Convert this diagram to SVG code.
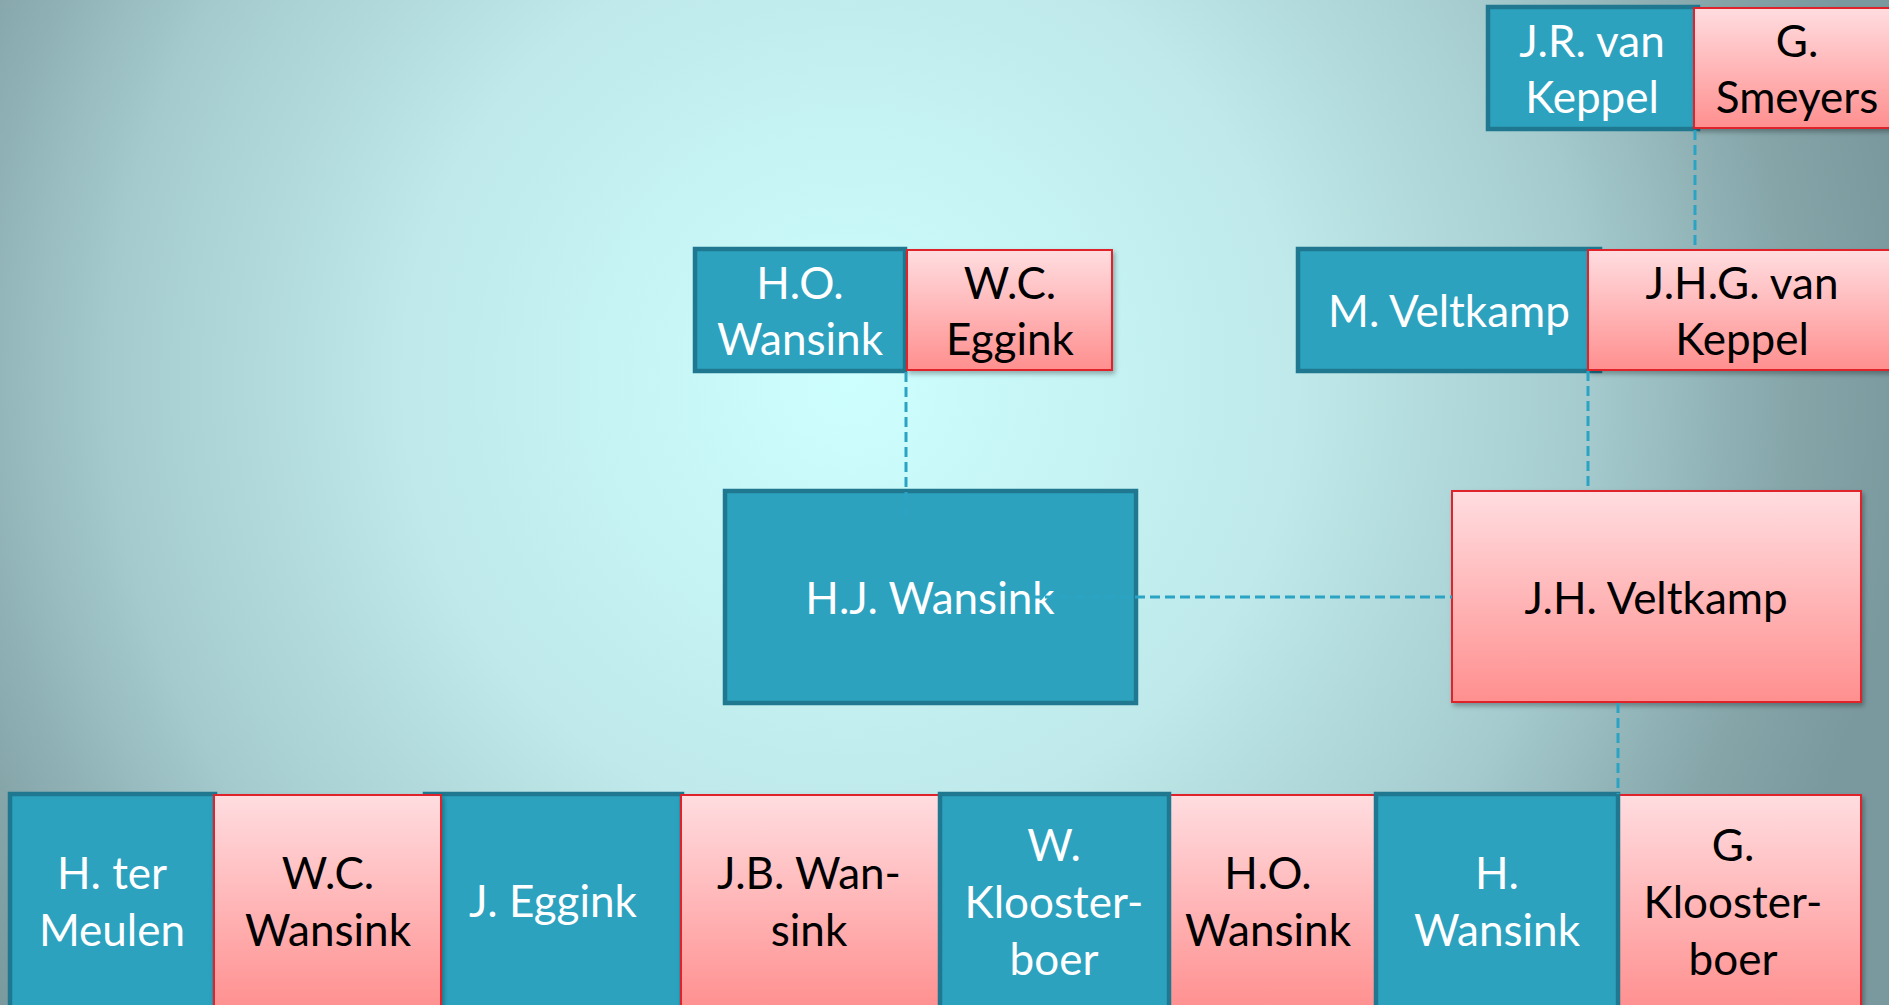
<svg xmlns="http://www.w3.org/2000/svg" width="1889" height="1005" viewBox="0 0 1889 1005">
<defs>
<radialGradient id="bg" gradientUnits="userSpaceOnUse" cx="850" cy="380" r="1060">
<stop offset="0" stop-color="#CEFFFF"/>
<stop offset="0.42" stop-color="#BFE9EA"/>
<stop offset="0.7" stop-color="#A4CACD"/>
<stop offset="0.89" stop-color="#85A5A9"/>
<stop offset="1" stop-color="#7A999E"/>
</radialGradient>
<linearGradient id="pinkg" x1="0" y1="0" x2="0" y2="1">
<stop offset="0" stop-color="#FFDDE0"/>
<stop offset="1" stop-color="#FF8F8F"/>
</linearGradient>
<filter id="sh" x="-10%" y="-10%" width="130%" height="130%">
<feDropShadow dx="2" dy="3" stdDeviation="2.5" flood-color="#000" flood-opacity="0.3"/>
</filter>
<style>
.blue{fill:#2CA2BF;stroke:#1F7890;stroke-width:4.5}
.pink{fill:url(#pinkg);stroke:#E0202A;stroke-width:2;filter:url(#sh)}
.tw{font-family:Lato,"Open Sans",sans-serif;font-size:44px;fill:#FFFFFF;text-anchor:middle}
.tb{font-family:Lato,"Open Sans",sans-serif;font-size:44px;fill:#000000;text-anchor:middle}
.con{fill:none;stroke:#2AA3C4;stroke-width:3;stroke-dasharray:10 5}
</style>
</defs>
<rect x="0" y="0" width="1889" height="1005" fill="url(#bg)"/>

<g id="n-jr-van-keppel"><rect class="blue" x="1488" y="7" width="210" height="122"/><text class="tw" x="1592" y="57">J.R. van</text><text class="tw" x="1592" y="113">Keppel</text></g>
<g id="n-g-smeyers"><rect class="pink" x="1694" y="8" width="210" height="120"/><text class="tb" x="1797" y="57">G.</text><text class="tb" x="1797" y="113">Smeyers</text></g>

<g id="n-ho-wansink-top"><rect class="blue" x="695" y="249" width="210" height="122"/><text class="tw" x="800" y="299">H.O.</text><text class="tw" x="800" y="355">Wansink</text></g>
<g id="n-wc-eggink"><rect class="pink" x="907" y="250" width="205" height="120"/><text class="tb" x="1010" y="299">W.C.</text><text class="tb" x="1010" y="355">Eggink</text></g>

<g id="n-m-veltkamp"><rect class="blue" x="1298" y="249" width="302" height="122"/><text class="tw" x="1449" y="327">M. Veltkamp</text></g>
<g id="n-jhg-van-keppel"><rect class="pink" x="1588" y="250" width="310" height="120"/><text class="tb" x="1742" y="299">J.H.G. van</text><text class="tb" x="1742" y="355">Keppel</text></g>

<g id="n-hj-wansink"><rect class="blue" x="725" y="491" width="411" height="212"/><text class="tw" x="930" y="614">H.J. Wansink</text></g>
<g id="n-jh-veltkamp"><rect class="pink" x="1452" y="491" width="409" height="211"/><text class="tb" x="1656" y="614">J.H. Veltkamp</text></g>

<g id="n-h-ter-meulen"><rect class="blue" x="10" y="794" width="205" height="216"/><text class="tw" x="112" y="889">H. ter</text><text class="tw" x="112" y="946">Meulen</text></g>
<g id="n-j-eggink"><rect class="blue" x="425" y="794" width="257" height="216"/><text class="tw" x="553" y="917">J. Eggink</text></g>
<g id="n-wc-wansink"><rect class="pink" x="214" y="795" width="227" height="216"/><text class="tb" x="328" y="889">W.C.</text><text class="tb" x="328" y="946">Wansink</text></g>
<g id="n-jb-wansink"><rect class="pink" x="681" y="795" width="258" height="216"/><text class="tb" x="809" y="889">J.B. Wan-</text><text class="tb" x="809" y="946">sink</text></g>
<g id="n-ho-wansink-bottom"><rect class="pink" x="1169" y="795" width="208" height="216"/><text class="tb" x="1268" y="889">H.O.</text><text class="tb" x="1268" y="946">Wansink</text></g>
<g id="n-g-kloosterboer"><rect class="pink" x="1619" y="795" width="242" height="216"/><text class="tb" x="1733" y="861">G.</text><text class="tb" x="1733" y="918">Klooster-</text><text class="tb" x="1733" y="975">boer</text></g>
<g id="n-w-kloosterboer"><rect class="blue" x="940" y="794" width="229" height="216"/><text class="tw" x="1054" y="861">W.</text><text class="tw" x="1054" y="918">Klooster-</text><text class="tw" x="1054" y="975">boer</text></g>
<g id="n-h-wansink"><rect class="blue" x="1376" y="794" width="242" height="216"/><text class="tw" x="1497" y="889">H.</text><text class="tw" x="1497" y="946">Wansink</text></g>

<g id="connectors">
<line class="con" x1="1695" y1="130" x2="1695" y2="249"/>
<line class="con" x1="906" y1="372" x2="906" y2="520"/>
<line class="con" x1="1588" y1="371" x2="1588" y2="491"/>
<line class="con" x1="1030" y1="597" x2="1452" y2="597"/>
<line class="con" x1="1618" y1="703" x2="1618" y2="794"/>
</g>
</svg>
